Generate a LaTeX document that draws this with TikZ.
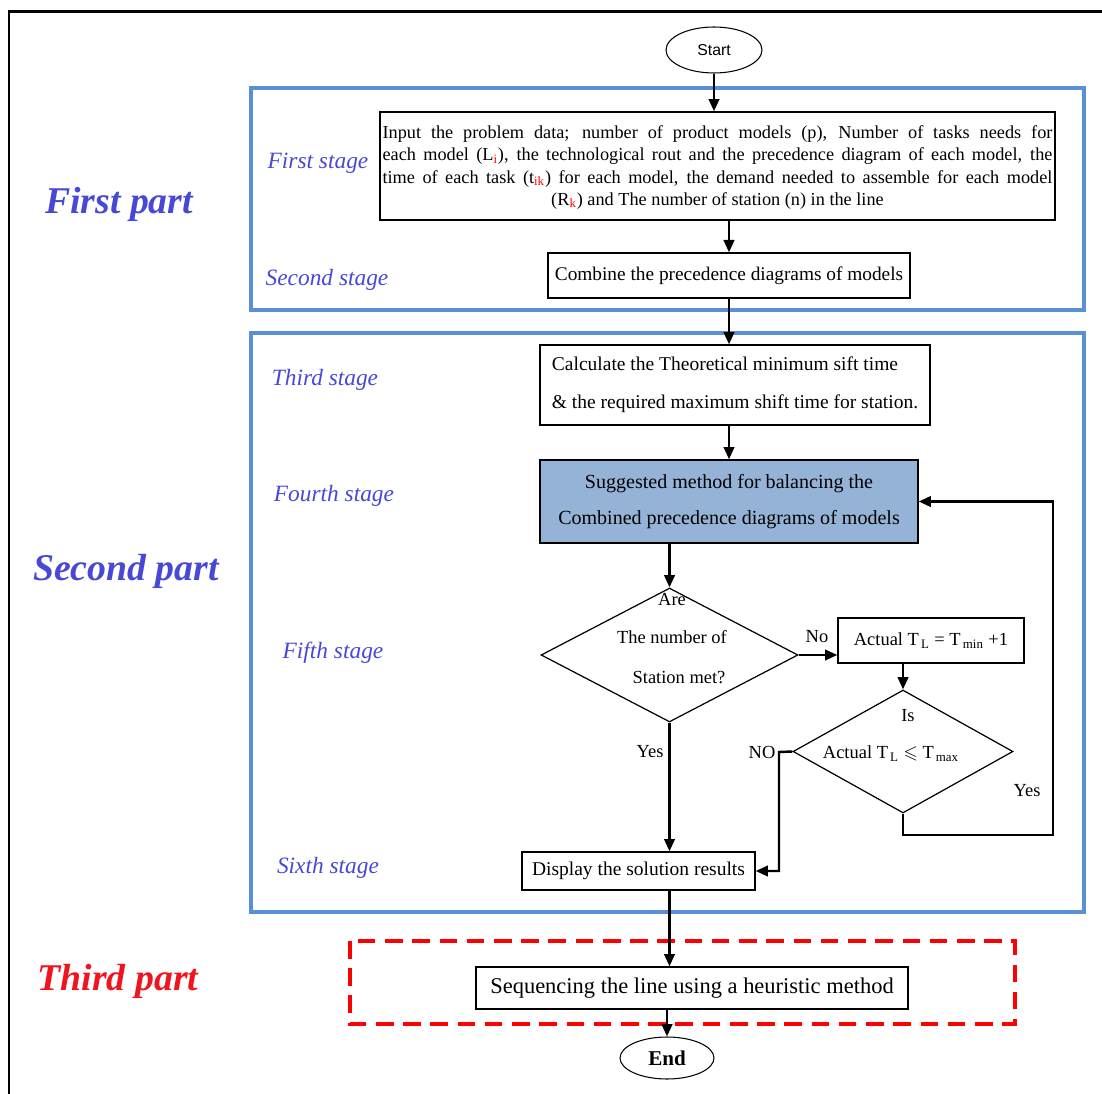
\documentclass[tikz,border=0pt]{standalone}
\usepackage{amssymb}
\usepackage{fontspec}
\setmainfont{Liberation Serif}
\newfontfamily\sansf{Liberation Sans}
\usetikzlibrary{arrows.meta,shapes.geometric}
\definecolor{frameblue}{RGB}{88,143,213}
\definecolor{fillblue}{RGB}{149,179,215}
\definecolor{lblblue}{RGB}{72,72,214}
\definecolor{lblred}{RGB}{240,20,30}
\newcommand{\rsub}[1]{\textsubscript{\textcolor{red}{#1}}}
\begin{document}
\begin{tikzpicture}[x=0.02cm,y=-0.02cm,
  box/.style={draw,line width=0.8pt,inner sep=0pt,font=\fontsize{11}{12.5}\selectfont},
  arr/.style={line width=1.4pt,-{Triangle[length=7pt,width=6pt]}},
  ln/.style={line width=1.4pt},
  dia/.style={draw,diamond,line width=0.7pt,inner sep=0pt,aspect=1},
  txt/.style={font=\fontsize{10.5}{12.5}\selectfont,inner sep=0pt},
  partlbl/.style={font=\fontsize{21.5}{24}\selectfont\bfseries\itshape,text=lblblue},
  stagelbl/.style={font=\fontsize{13.3}{15}\selectfont\itshape,text=lblblue},
  frame/.style={draw=frameblue,line width=2pt}]
\useasboundingbox (0,0) rectangle (1102,1094);
% outer border
\draw[line width=1.7pt] (1102,12) -- (9,12) -- (9,1094);
% part frames
\draw[frame] (251,88) rectangle (1084,310);
\draw[frame] (251,333) rectangle (1084,912);
\draw[draw=red,line width=2.2pt,dash pattern=on 10pt off 5.5pt] (350,941) rectangle (1015,1024);
% part labels
\node[partlbl] (p1) at (119,204) {First part};
\node[partlbl] (p2) at (126,571) {Second part};
\node[partlbl,text=lblred] (p3) at (118,981) {Third part};
% stage labels
\node[stagelbl] (s1) at (318,163) {First stage};
\node[stagelbl] (s2) at (327,280) {Second stage};
\node[stagelbl] (s3) at (325,380) {Third stage};
\node[stagelbl] (s4) at (334,496) {Fourth stage};
\node[stagelbl] (s5) at (333,653) {Fifth stage};
\node[stagelbl] (s6) at (328,868) {Sixth stage};
% nodes
\node[draw,ellipse,line width=0.6pt,minimum width=1.92cm,minimum height=0.92cm,inner sep=0pt,font=\sansf\fontsize{9}{10}\selectfont] (start) at (714,50) {Start};
\node[box,minimum width=13.5cm,minimum height=2.16cm,text width=13.4cm,align=justify,font=\fontsize{10.4}{12.6}\selectfont] (inp) at (717.5,166)
 {\rule{0pt}{9pt}{\parfillskip=0pt Input the problem data; number of product models (p), Number of tasks needs for\linebreak
 each model (L\rsub{i}), the technological rout and the precedence diagram of each model, the\linebreak
 time of each task (t\rsub{ik}) for each model, the demand needed to assemble for each model\par}
 {\centering (R\rsub{k}) and The number of station (n) in the line\par}};
\node[box,minimum width=7.24cm,minimum height=0.9cm] (comb) at (729,275.5) {Combine the precedence diagrams of models};
\node[box,minimum width=7.8cm,minimum height=1.6cm,align=left,font=\fontsize{11.1}{12.5}\selectfont] (calc) at (735,385)
 {Calculate the Theoretical minimum sift time\\[9pt]\& the required maximum shift time for station.};
\node[box,fill=fillblue,minimum width=7.56cm,minimum height=1.66cm,align=center,font=\fontsize{11.4}{12.5}\selectfont] (sugg) at (729,501.5)
 {Suggested method for balancing the\\[8pt]Combined precedence diagrams of models};
\node[dia,minimum width=5.14cm,minimum height=2.68cm] (d1) at (669.5,655) {};
\node[txt] (d1a) at (672,600) {Are};
\node[txt] (d1b) at (672,637) {The number of};
\node[txt] (d1c) at (679,678) {Station met?};
\node[box,minimum width=3.72cm,minimum height=0.9cm,font=\fontsize{10.5}{12.5}\selectfont] (act) at (931,640.5)
 {Actual T\textsubscript{\,L} = T\textsubscript{\,min} +1};
\node[dia,minimum width=4.4cm,minimum height=2.46cm] (d2) at (903,751.5) {};
\node[txt] (d2a) at (908,716) {Is};
\node[txt] (d2b) at (891,754) {Actual T\textsubscript{\,L} $\leqslant$ T\textsubscript{\,max}};
\node[box,minimum width=4.66cm,minimum height=0.76cm,font=\fontsize{11.1}{12.5}\selectfont] (disp) at (638.5,871) {Display the solution results};
\node[box,minimum width=8.64cm,minimum height=0.84cm,font=\fontsize{12.8}{14}\selectfont] (seq) at (692,988) {Sequencing the line using a heuristic method};
\node[draw,ellipse,line width=0.6pt,minimum width=1.88cm,minimum height=0.84cm,inner sep=0pt,font=\fontsize{12}{13}\selectfont\bfseries] (endn) at (667,1058) {End};
% edge labels
\node[txt] (lno) at (817,637) {No};
\node[txt] (lyes1) at (650,752) {Yes};
\node[txt] (lno2) at (762,752) {NO};
\node[txt] (lyes2) at (1027,791) {Yes};
% connectors
\draw[arr] (start.south) -- (start.south |- inp.north);
\draw[arr] (comb.north |- inp.south) -- (comb.north);
\draw[arr] (comb.south) -- (comb.south |- calc.north);
\draw[arr] (sugg.north |- calc.south) -- (sugg.north);
\draw[arr] (d1.north |- sugg.south) -- (d1.north);
\draw[arr] (d1.east) -- (d1.east -| act.west);
\draw[arr] (d2.north |- act.south) -- (d2.north);
\coordinate (loopc) at (1053,835);
\draw[arr] (d2.south) |- (loopc) |- (sugg.east);
\coordinate (noc) at (779,752);
\draw[arr] (d2.west) -- (noc) |- (disp.east);
\draw[arr] (d1.south) -- (d1.south |- disp.north);
\draw[arr] (d1.south |- disp.south) -- (d1.south |- seq.north);
\draw[arr] (endn.north |- seq.south) -- (endn.north);
\end{tikzpicture}
\end{document}
